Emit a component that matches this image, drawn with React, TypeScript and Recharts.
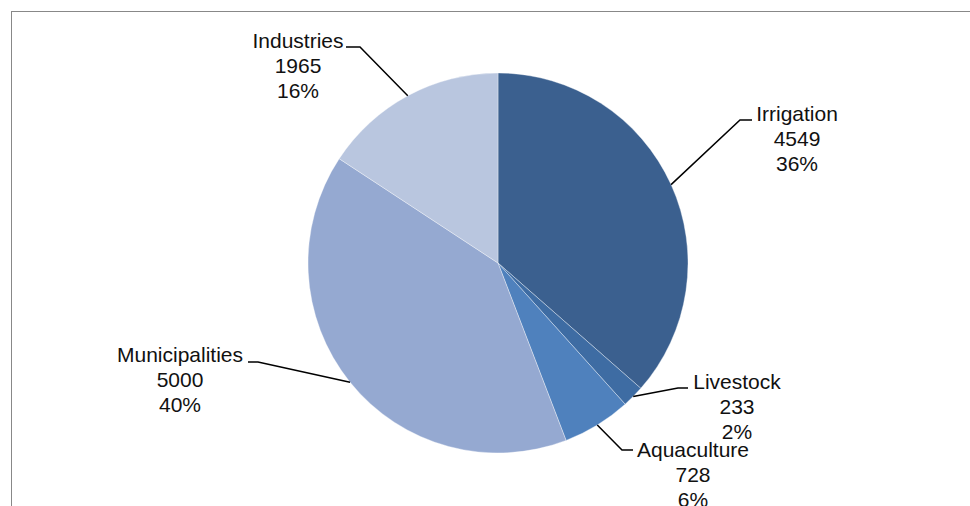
import React from 'react';
import { PieChart, Pie, Cell } from 'recharts';

const categories = ['Irrigation', 'Livestock', 'Aquaculture', 'Municipalities', 'Industries'];
const volumes = [4549, 233, 728, 5000, 1965];
const sliceColors = ['#3b608f', '#3e6ca3', '#4f81bd', '#95a9d1', '#b9c6df'];

// where each callout goes, relative to the pie centre: elbow, end of the short
// horizontal tick, and text centre / first baseline
const labelLayout = [
  { ex: 242, ey: -143, hx: 254, tx: 299, ty: -142 },
  { ex: 180, ey: 125, hx: 190, tx: 239, ty: 126 },
  { ex: 124, ey: 187, hx: 135, tx: 195, ty: 194 },
  { ex: -240, ey: 99, hx: -250, tx: -318, ty: 99 },
  { ex: -138, ey: -216, hx: -152, tx: -200, ty: -215 },
];

const data = categories.map((name, i) => ({ name, value: volumes[i] }));

const RADIAN = Math.PI / 180;
const FONT = '"Liberation Sans", Arial, sans-serif';

const renderLabel = (props: any) => {
  const { cx, cy, midAngle, outerRadius, index, name, value, percent } = props;
  const l = labelLayout[index];
  const sx = cx + outerRadius * Math.cos(-midAngle * RADIAN);
  const sy = cy + outerRadius * Math.sin(-midAngle * RADIAN);
  const lines = [name, String(value), `${Math.round(percent * 100)}%`];
  return (
    <g key={`lbl-${index}`}>
      <polyline
        points={`${sx},${sy} ${cx + l.ex},${cy + l.ey} ${cx + l.hx},${cy + l.ey}`}
        fill="none"
        stroke="#000"
        strokeWidth={1.5}
      />
      {lines.map((t, k) => (
        <text
          key={k}
          x={cx + l.tx}
          y={cy + l.ty + k * 25}
          textAnchor="middle"
          fontFamily={FONT}
          fontSize={21}
          fill="#111"
        >
          {t}
        </text>
      ))}
    </g>
  );
};

export default function App() {
  return (
    <div style={{ position: 'fixed', left: 0, top: 0, width: 970, height: 506, background: '#fff', overflow: 'hidden' }}>
      <div
        style={{
          position: 'absolute',
          left: 11,
          top: 11,
          width: 1000,
          height: 600,
          borderLeft: '1.5px solid #888',
          borderTop: '1.5px solid #888',
        }}
      />
      <div style={{ position: 'absolute', left: 0, top: 0 }}>
        <PieChart width={970} height={506} margin={{ top: 0, right: 0, bottom: 0, left: 0 }}>
          <Pie
            data={data}
            dataKey="value"
            nameKey="name"
            cx={498}
            cy={263}
            outerRadius={190}
            startAngle={90}
            endAngle={-270}
            stroke="rgba(255,255,255,0.45)"
            strokeWidth={0.8}
            label={renderLabel}
            labelLine={false}
            isAnimationActive={false}
          >
            {data.map((d, i) => (
              <Cell key={d.name} fill={sliceColors[i]} />
            ))}
          </Pie>
        </PieChart>
      </div>
    </div>
  );
}
